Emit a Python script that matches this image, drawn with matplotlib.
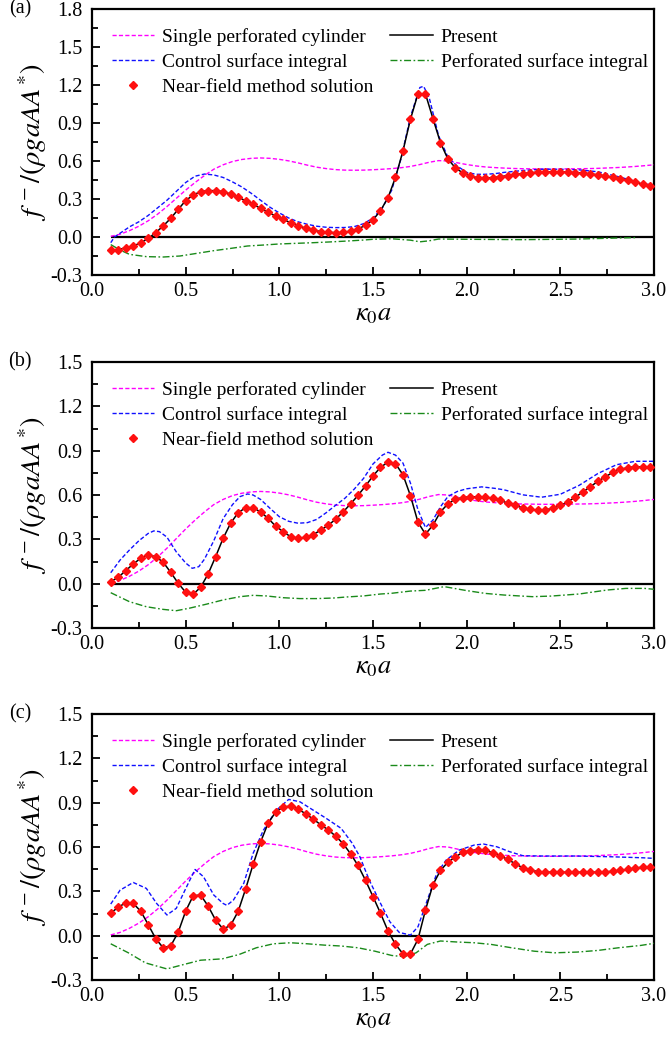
import numpy as np
import matplotlib
matplotlib.use("Agg")
import matplotlib.pyplot as plt
from matplotlib.ticker import MultipleLocator

plt.rcParams['font.family'] = ['Liberation Serif', 'DejaVu Serif']
plt.rcParams['mathtext.fontset'] = 'stix'
plt.rcParams['axes.unicode_minus'] = False

# ---------------- data ----------------
# Present solution / near-field markers (sampled at kappa0*a = 0.10, 0.14, ..., 2.98)
ka_present = np.round(np.arange(0.10, 3.0, 0.04), 2)

present_a = [-0.105, -0.100, -0.085, -0.071, -0.046, -0.011, 0.034, 0.087, 0.147, 0.218,
             0.287, 0.332, 0.358, 0.366, 0.366, 0.358, 0.339, 0.313, 0.287, 0.258,
             0.226, 0.195, 0.166, 0.139, 0.113, 0.090, 0.070, 0.055, 0.043, 0.037,
             0.034, 0.036, 0.046, 0.063, 0.093, 0.135, 0.208, 0.310, 0.470, 0.680,
             0.930, 1.130, 1.130, 0.935, 0.745, 0.615, 0.546, 0.505, 0.480, 0.468,
             0.466, 0.469, 0.476, 0.485, 0.494, 0.501, 0.507, 0.511, 0.513, 0.514,
             0.514, 0.512, 0.509, 0.504, 0.498, 0.491, 0.482, 0.472, 0.460, 0.447,
             0.433, 0.418, 0.402]

present_b = [0.014, 0.043, 0.088, 0.133, 0.172, 0.194, 0.183, 0.145, 0.077, 0.003,
             -0.058, -0.072, -0.024, 0.066, 0.183, 0.307, 0.409, 0.480, 0.514, 0.514,
             0.485, 0.442, 0.390, 0.352, 0.318, 0.307, 0.314, 0.332, 0.361, 0.395,
             0.435, 0.485, 0.539, 0.598, 0.661, 0.729, 0.787, 0.823, 0.812, 0.737,
             0.595, 0.416, 0.335, 0.396, 0.486, 0.540, 0.572, 0.583, 0.588, 0.588,
             0.586, 0.577, 0.563, 0.545, 0.529, 0.513, 0.502, 0.497, 0.500, 0.509,
             0.529, 0.554, 0.586, 0.620, 0.656, 0.692, 0.723, 0.753, 0.773, 0.785,
             0.791, 0.791, 0.787]

present_c = [0.152, 0.193, 0.222, 0.218, 0.166, 0.075, -0.020, -0.082, -0.070, 0.023,
             0.166, 0.270, 0.275, 0.200, 0.105, 0.045, 0.070, 0.164, 0.316, 0.482,
             0.634, 0.761, 0.836, 0.870, 0.877, 0.857, 0.825, 0.789, 0.752, 0.716,
             0.675, 0.623, 0.555, 0.475, 0.375, 0.264, 0.152, 0.032, -0.059, -0.123,
             -0.123, -0.025, 0.173, 0.345, 0.441, 0.498, 0.532, 0.566, 0.575, 0.582,
             0.577, 0.561, 0.539, 0.516, 0.486, 0.459, 0.443, 0.434, 0.430, 0.429,
             0.429, 0.429, 0.429, 0.429, 0.429, 0.430, 0.431, 0.436, 0.441, 0.448,
             0.457, 0.464, 0.466]

# Single perforated cylinder (same in all panels)
ka_single = [0.10, 0.15, 0.20, 0.25, 0.30, 0.35, 0.40, 0.45, 0.50, 0.55, 0.60, 0.65, 0.70,
             0.75, 0.80, 0.85, 0.90, 0.95, 1.00, 1.05, 1.10, 1.15, 1.20, 1.25, 1.30, 1.35,
             1.40, 1.45, 1.50, 1.55, 1.60, 1.65, 1.70, 1.75, 1.80, 1.85, 1.90, 1.95, 2.00,
             2.05, 2.10, 2.15, 2.20, 2.25, 2.30, 2.35, 2.40, 2.45, 2.50, 2.55, 2.60, 2.65,
             2.70, 2.75, 2.80, 2.85, 2.90, 2.95, 3.00]
single = [0.005, 0.022, 0.050, 0.085, 0.128, 0.180, 0.240, 0.305, 0.370, 0.430, 0.485, 0.535,
          0.570, 0.596, 0.612, 0.621, 0.624, 0.621, 0.613, 0.601, 0.585, 0.567, 0.551, 0.540,
          0.532, 0.528, 0.527, 0.528, 0.531, 0.535, 0.540, 0.547, 0.557, 0.572, 0.590, 0.603,
          0.600, 0.586, 0.572, 0.561, 0.553, 0.548, 0.544, 0.541, 0.539, 0.538, 0.537, 0.537,
          0.537, 0.538, 0.539, 0.540, 0.542, 0.545, 0.548, 0.552, 0.557, 0.563, 0.570]

# Control surface integral
ka_ctrl_a = [0.10, 0.12, 0.15, 0.20, 0.25, 0.30, 0.35, 0.40, 0.45, 0.50, 0.55, 0.60, 0.65,
             0.70, 0.75, 0.80, 0.85, 0.90, 0.95, 1.00, 1.05, 1.10, 1.15, 1.20, 1.25, 1.30,
             1.35, 1.40, 1.45, 1.50, 1.55, 1.60, 1.65, 1.70, 1.75, 1.77, 1.80, 1.85, 1.90,
             1.95, 2.00, 2.05, 2.10, 2.15, 2.20, 2.30, 2.40, 2.50, 2.60, 2.70, 2.80, 2.90, 3.00]
ctrl_a = [-0.045, 0.000, 0.030, 0.080, 0.120, 0.170, 0.230, 0.290, 0.360, 0.430, 0.480, 0.497,
          0.490, 0.470, 0.435, 0.395, 0.345, 0.290, 0.235, 0.190, 0.150, 0.120, 0.100, 0.085,
          0.077, 0.074, 0.075, 0.082, 0.105, 0.150, 0.230, 0.370, 0.620, 0.950, 1.180, 1.190,
          1.100, 0.800, 0.630, 0.560, 0.510, 0.495, 0.495, 0.500, 0.510, 0.525, 0.535, 0.535,
          0.530, 0.515, 0.480, 0.440, 0.405]

ka_ctrl_b = [0.10, 0.15, 0.20, 0.25, 0.30, 0.33, 0.36, 0.40, 0.45, 0.50, 0.535, 0.57, 0.60,
             0.65, 0.70, 0.75, 0.79, 0.83, 0.86, 0.90, 0.95, 1.00, 1.05, 1.10, 1.15, 1.20,
             1.25, 1.30, 1.35, 1.40, 1.45, 1.50, 1.55, 1.58, 1.62, 1.66, 1.70, 1.74, 1.78,
             1.82, 1.86, 1.90, 1.95, 2.00, 2.08, 2.15, 2.20, 2.30, 2.40, 2.50, 2.60, 2.70,
             2.80, 2.90, 3.00]
ctrl_b = [0.074, 0.160, 0.228, 0.290, 0.340, 0.357, 0.352, 0.315, 0.215, 0.140, 0.104, 0.115,
          0.165, 0.290, 0.440, 0.535, 0.589, 0.607, 0.600, 0.570, 0.510, 0.453, 0.422, 0.409,
          0.413, 0.435, 0.480, 0.530, 0.578, 0.640, 0.713, 0.810, 0.870, 0.889, 0.870, 0.816,
          0.680, 0.500, 0.380, 0.430, 0.520, 0.590, 0.624, 0.642, 0.655, 0.645, 0.635, 0.601,
          0.585, 0.605, 0.665, 0.745, 0.805, 0.828, 0.828]

ka_ctrl_c = [0.10, 0.15, 0.22, 0.29, 0.345, 0.40, 0.45, 0.505, 0.55, 0.595, 0.65, 0.70, 0.72,
             0.755, 0.81, 0.86, 0.915, 0.985, 1.05, 1.11, 1.18, 1.25, 1.33, 1.39, 1.43, 1.48,
             1.54, 1.59, 1.64, 1.70, 1.74, 1.79, 1.84, 1.89, 1.96, 2.04, 2.09, 2.16, 2.23,
             2.30, 2.40, 2.58, 2.77, 2.94, 3.00]
ctrl_c = [0.214, 0.308, 0.360, 0.320, 0.218, 0.140, 0.185, 0.331, 0.448, 0.399, 0.275, 0.218,
          0.205, 0.241, 0.354, 0.557, 0.714, 0.850, 0.922, 0.906, 0.850, 0.794, 0.726, 0.624,
          0.534, 0.376, 0.219, 0.094, 0.022, 0.004, 0.060, 0.241, 0.420, 0.511, 0.579, 0.613,
          0.620, 0.602, 0.568, 0.541, 0.539, 0.539, 0.534, 0.527, 0.523]

# Perforated surface integral
ka_perf_a = [0.10, 0.15, 0.20, 0.29, 0.38, 0.47, 0.56, 0.65, 0.74, 0.83, 0.92, 1.00, 1.09,
             1.18, 1.27, 1.36, 1.45, 1.50, 1.60, 1.70, 1.75, 1.80, 1.85, 2.00, 2.30, 2.60,
             2.80, 2.90]
perf_a = [-0.060, -0.103, -0.137, -0.155, -0.158, -0.150, -0.129, -0.108, -0.090, -0.071,
          -0.063, -0.055, -0.050, -0.045, -0.039, -0.032, -0.024, -0.018, -0.014, -0.025,
          -0.038, -0.030, -0.016, -0.018, -0.021, -0.016, -0.008, -0.005]

ka_perf_b = [0.10, 0.20, 0.29, 0.38, 0.45, 0.52, 0.61, 0.70, 0.79, 0.86, 0.93, 1.02, 1.11,
             1.20, 1.29, 1.36, 1.45, 1.54, 1.60, 1.70, 1.78, 1.88, 2.00, 2.10, 2.20, 2.35,
             2.45, 2.60, 2.75, 2.85, 2.95, 3.00]
perf_b = [-0.061, -0.122, -0.156, -0.174, -0.183, -0.166, -0.139, -0.110, -0.088, -0.079,
          -0.083, -0.095, -0.101, -0.101, -0.097, -0.090, -0.083, -0.070, -0.065, -0.050,
          -0.045, -0.020, -0.047, -0.066, -0.077, -0.088, -0.084, -0.070, -0.043, -0.032,
          -0.032, -0.038]

ka_perf_c = [0.10, 0.194, 0.285, 0.40, 0.49, 0.58, 0.695, 0.786, 0.877, 0.968, 1.06, 1.15,
             1.24, 1.33, 1.42, 1.51, 1.60, 1.67, 1.73, 1.79, 1.86, 1.95, 2.04, 2.13, 2.24,
             2.36, 2.47, 2.59, 2.70, 2.81, 2.93, 3.00]
perf_c = [-0.055, -0.116, -0.184, -0.225, -0.195, -0.166, -0.157, -0.127, -0.082, -0.055,
          -0.048, -0.055, -0.064, -0.070, -0.082, -0.105, -0.134, -0.143, -0.116, -0.059,
          -0.036, -0.043, -0.048, -0.059, -0.082, -0.105, -0.116, -0.111, -0.100, -0.082,
          -0.066, -0.052]

panel_labels = ['(a)', '(b)', '(c)']
ymax_list = [1.8, 1.5, 1.5]
legend_labels = ['Single perforated cylinder', 'Control surface integral',
                 'Near-field method solution', 'Present', 'Perforated surface integral']

# ---------------- figure ----------------
W, H = 669, 1040
fig = plt.figure(figsize=(W / 100, H / 100), dpi=100)

ax_left, ax_w = 92 / W, 562 / W
tops_px = [9, 362, 714]
bots_px = [275, 628, 980]

panels = [
    (present_a, ctrl_a, ka_ctrl_a, perf_a, ka_perf_a),
    (present_b, ctrl_b, ka_ctrl_b, perf_b, ka_perf_b),
    (present_c, ctrl_c, ka_ctrl_c, perf_c, ka_perf_c),
]

for i, (pres, ctrl, kac, perf, kap) in enumerate(panels):
    b = 1 - bots_px[i] / H
    h = (bots_px[i] - tops_px[i]) / H
    ax = fig.add_axes([ax_left, b, ax_w, h])

    ax.hlines(0, 0.1, 3.0, colors='black', linewidth=1.6, zorder=2)
    l_single, = ax.plot(ka_single, single, color='#ff00ff', lw=1.0,
                        linestyle=(0, (3, 1.6)), zorder=3)
    l_ctrl, = ax.plot(kac, ctrl, color='#1010ff', lw=1.0,
                      linestyle=(0, (3, 1.6)), zorder=3)
    l_perf, = ax.plot(kap, perf, color='#1a8a1a', lw=1.0,
                      linestyle=(0, (5, 1.8, 1.2, 1.8)), zorder=3)
    l_pres, = ax.plot(ka_present, pres, color='black', lw=1.1, zorder=4)
    l_mark, = ax.plot(ka_present, pres, linestyle='none', marker='D', ms=4.0,
                      color='#ff1010', mec='#ff1010', zorder=5)

    ax.set_xlim(0, 3.0)
    ax.set_ylim(-0.3, ymax_list[i])
    ax.xaxis.set_major_locator(MultipleLocator(0.5))
    ax.xaxis.set_minor_locator(MultipleLocator(0.25))
    ax.yaxis.set_major_locator(MultipleLocator(0.3))
    ax.yaxis.set_minor_locator(MultipleLocator(0.15))
    ax.xaxis.set_major_formatter(matplotlib.ticker.FormatStrFormatter('%.1f'))
    ax.yaxis.set_major_formatter(matplotlib.ticker.FormatStrFormatter('%.1f'))
    ax.tick_params(which='both', direction='in', top=False, right=False,
                   labelsize=14.5, width=1.3)
    ax.tick_params(which='major', length=6)
    ax.tick_params(which='minor', length=4)
    ax.tick_params(axis='y', pad=7)
    ax.tick_params(axis='x', pad=5)
    for sp in ax.spines.values():
        sp.set_linewidth(1.6)

    ax.set_xlabel(r'$\kappa_0 a$', fontsize=19, labelpad=2)
    ax.set_ylabel(r'$f^{\,-}/(\rho gaAA^{*})$', fontsize=20.5, labelpad=1)

    ax.legend([l_single, l_ctrl, l_mark, l_pres, l_perf], legend_labels,
              ncol=2, loc='upper left', bbox_to_anchor=(0.035, 0.928),
              frameon=False, fontsize=14, handlelength=2.2, handletextpad=0.4,
              columnspacing=0.85, labelspacing=0.38, borderpad=0, borderaxespad=0,
              numpoints=1)

    fig.text(20 / W, 1 - tops_px[i] / H, panel_labels[i], fontsize=14.5,
             ha='center', va='center')

fig.savefig('out.png', dpi=100)
